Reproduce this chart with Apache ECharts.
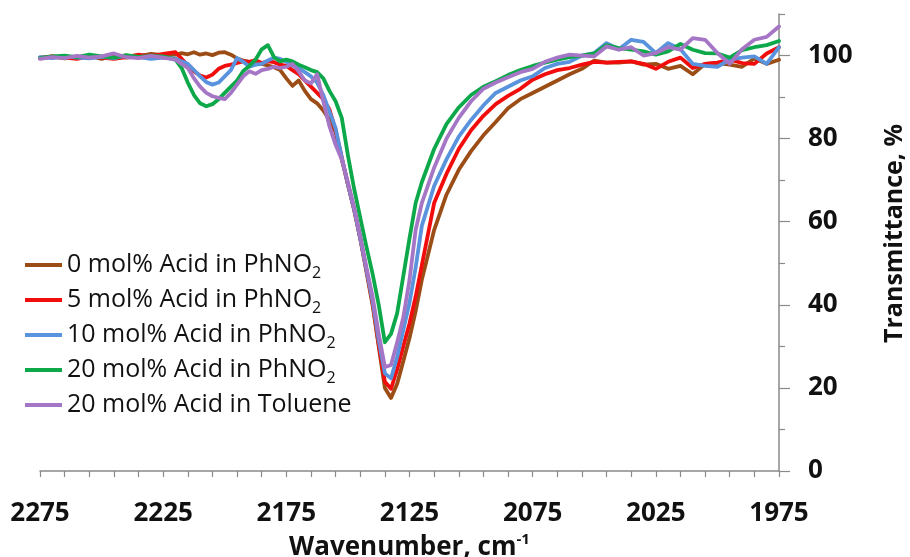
<!DOCTYPE html>
<html><head><meta charset="utf-8">
<script src="https://cdn.jsdelivr.net/npm/echarts@6/dist/echarts.min.js"></script>
<style>html,body{margin:0;padding:0;background:#fff}#c{width:910px;height:557px}</style>
</head><body><div id="c"></div>
<script>
const wavenumbers = [2275,2270,2265,2260,2255,2250,2245,2240,2235,2230,2225,
 2220,2217.5,2215,2212.5,2210,2207.5,2205,2202.5,2200,2197.5,
 2195,2192.5,2190,2187.5,2185,2182.5,2180,2177.5,2175,2172.5,
 2170,2167.5,2165,2162.5,2160,2157.5,2155,2152.5,2150,2147.5,
 2145,2142.5,2140,2137.5,2135,2132.5,2130,2127.5,2125,2122.5,
 2120,
 2115,2110,2105,2100,2095,2090,2085,2080,2075,2070,
 2065,2060,2055,2050,2045,2040,2035,2030,2025,2020,
 2015,2010,2005,2000,1995,1990,1985,1980,1975];

const acid0PhNO2 = [99.5,99.8,99.3,99.6,99.9,99.2,100,99.5,99.8,100.4,100.1,
 100.2,100.6,100.3,100.8,100.2,100.5,100.1,100.7,100.8,100.2,
 99.3,98.8,98.5,98.3,98,97.6,97.2,96.5,94.5,92.7,
 94,91.5,89.5,88.5,86.8,84.5,81.5,75,69,63,
 56,48,40,30,20,17.6,21,26.5,32,38.5,
 46,
 58,66.5,72.5,77,80.8,84,87.3,89.5,91,92.5,
 94,95.5,96.8,98.8,98.3,98.3,98.6,97.8,98,96.8,
 97.5,95.5,98,98.2,97.8,97.3,99.3,98,99];

const acid5PhNO2 = [99.3,99.8,99.5,99.2,99.8,99.5,99.2,99.6,100.2,99.8,100.4,
 100.8,99.2,97.6,96.2,95.2,94.7,95.4,96.8,97.5,97.8,
 98.2,98.6,98.5,98.9,98.2,98.6,98.4,97.8,97.5,96.5,
 95.5,94,92.5,91,89.5,87,82,75.5,69,63,
 56,48.5,40.5,30.5,21.5,19.8,24.5,30,35.5,42,
 49.5,
 64.5,71.5,77.5,82,85.5,88.3,90.3,92,94.2,95.5,
 96.5,97,97.8,98.5,98.3,98.5,98.6,98,96.8,98.5,
 99.5,97,98,98.3,99,98.2,98,100.5,102];

const acid10PhNO2 = [99.6,99.4,99.8,99.5,99.3,99.7,99.4,100,99.6,99.2,99.5,
 99.3,98.6,98,96.5,95,93.6,93,93.5,95,96.5,
 99.4,98.5,97.3,97.8,98,98.8,99.5,99.2,98.5,97.6,
 97,96,95,93.5,90.5,86.5,82.5,75.5,69,63,
 56,48.5,41,31.5,23.5,22.3,27.5,34,40.5,49,
 59,
 68.6,75,80.5,84.5,88,91,92.5,94,95,97,
 98,98.5,100,100.6,103,101.5,103.8,103.3,100.6,103,
 101.5,98,97.5,97.3,99,99.5,99.8,98,102];

const acid20PhNO2 = [99.4,99.8,100,99.6,100.2,99.8,99.5,100.1,99.7,99.9,99.8,
 99,97,93.5,90.5,88.5,87.8,88.3,89.5,91,92.5,
 94,96.3,97.5,99,101.5,102.5,99.6,98.6,99,98.6,
 97.8,97.2,96.5,96,94.5,91.5,89,85,76,68,
 61,54,47.5,40,31,33,38,47,56,64.5,
 69.5,
 77.5,83.5,87.5,90.5,92.5,93.8,95.3,96.5,97.5,98.3,
 99,99.6,100,100.5,102.5,101.8,101.4,101,100.2,101,
 102.8,101.4,100.6,100.5,99.5,101.3,102,102.5,103.5];

const acid20Toluene = [99.2,99.6,99.4,99.9,99.5,99.8,100.5,99.6,99.4,99.9,99.5,
 99,98,97,94.5,92.5,91,90.2,89.8,89.5,91,
 93,95,96.2,95.6,96.5,96.8,97.3,97,97.3,98,
 96.2,94,93.3,95.5,89,83,78.5,75,69.5,63.5,
 56.5,49,42,33,25,25.5,31,37,46,58,
 64.5,
 73,80,85,89,92,93.5,94.8,96,96.8,98.5,
 99.5,100.2,100,99.8,102.2,101.4,102,100,100.6,102,
 101.4,104.2,103.8,100.6,98,101.5,103.8,104.5,107];

const seriesNames = ['0 mol% Acid in PhNO2','5 mol% Acid in PhNO2','10 mol% Acid in PhNO2','20 mol% Acid in PhNO2','20 mol% Acid in Toluene'];
const legendLabels = ['0 mol% Acid in PhNO{sub|2}','5 mol% Acid in PhNO{sub|2}','10 mol% Acid in PhNO{sub|2}','20 mol% Acid in PhNO{sub|2}','20 mol% Acid in Toluene'];
const seriesValues = [acid0PhNO2, acid5PhNO2, acid10PhNO2, acid20PhNO2, acid20Toluene];
const seriesColors = ['#9C4D16','#F20D0D','#5A93DD','#0DA84A','#A676C6'];

const xLabelTicks = [2275,2225,2175,2125,2075,2025,1975];
const xMinorTicks = [2275,2265,2255,2245,2235,2225,2215,2205,2195,2185,2175,2165,2155,2145,2135,2125,2115,2105,2095,2085,2075,2065,2055,2045,2035,2025,2015,2005,1995,1985,1975];
const yLabelTicks = [0,20,40,60,80,100];
const yMinorTicks = [10,30,50,70,90,110];

const FONT = '"Open Sans"';
const chart = echarts.init(document.getElementById('c'), null, {renderer: 'canvas'});
const axisColor = '#8a8a8a';

chart.setOption({
  animation: false,
  backgroundColor: '#ffffff',
  grid: {left: 40, right: 131, top: 14, bottom: 86, containLabel: false, outerBoundsMode: 'none'},
  legend: {
    orient: 'vertical', left: 20, top: 244,
    icon: 'rect', itemWidth: 37, itemHeight: 4, itemGap: 3,
    data: seriesNames,
    formatter: n => legendLabels[seriesNames.indexOf(n)],
    textStyle: {fontFamily: FONT, fontSize: 25, lineHeight: 32, color: '#111',
      rich: {sub: {fontFamily: FONT, fontSize: 16, lineHeight: 16, verticalAlign: 'bottom', color: '#111'}}}
  },
  xAxis: {
    type: 'value', min: 1975, max: 2275, inverse: true,
    name: 'Wavenumber, cm{sup|-1}', nameLocation: 'middle', nameGap: 53,
    nameTextStyle: {fontFamily: FONT, fontSize: 26, lineHeight: 32, fontWeight: 'bold', color: '#111',
      rich: {sup: {fontFamily: FONT, fontSize: 15, lineHeight: 15, verticalAlign: 'top', fontWeight: 'bold', color: '#111'}}},
    axisLine: {lineStyle: {color: axisColor, width: 1.5}},
    axisTick: {customValues: xMinorTicks, length: 6, lineStyle: {color: axisColor, width: 1.2}},
    axisLabel: {customValues: xLabelTicks, formatter: v => String(v), fontFamily: FONT, fontSize: 26, fontWeight: 'bold', color: '#111', margin: 30},
    splitLine: {show: false}
  },
  yAxis: [{
    type: 'value', min: 0, max: 110, position: 'right',
    name: 'Transmittance, %', nameLocation: 'middle', nameGap: 103, nameRotate: 90,
    nameTextStyle: {fontFamily: FONT, fontSize: 25, fontWeight: 'bold', color: '#111', padding: [0, 0, 0, 18]},
    axisLine: {show: true, lineStyle: {color: axisColor, width: 1.5}},
    axisTick: {show: true, customValues: yLabelTicks, length: 11, lineStyle: {color: axisColor, width: 1.2}},
    axisLabel: {customValues: yLabelTicks, formatter: v => String(v), fontFamily: FONT, fontSize: 26, fontWeight: 'bold', color: '#111', margin: 29},
    splitLine: {show: false}
  }, {
    type: 'value', min: 0, max: 110, position: 'right',
    axisLine: {show: false},
    axisTick: {show: true, customValues: yMinorTicks, length: 6, lineStyle: {color: axisColor, width: 1.2}},
    axisLabel: {show: false},
    splitLine: {show: false}
  }],
  series: seriesNames.map((name, i) => ({
    name, type: 'line', yAxisIndex: 0, symbol: 'none', smooth: false,
    color: seriesColors[i],
    lineStyle: {width: 3.8, color: seriesColors[i], join: 'round', cap: 'round'},
    data: wavenumbers.map((w, k) => [w, seriesValues[i][k]])
  }))
});
</script></body></html>
